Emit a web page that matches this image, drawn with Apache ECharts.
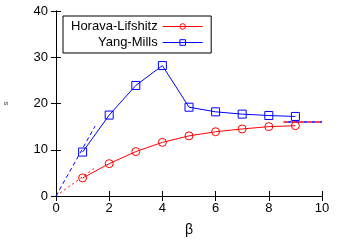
<!DOCTYPE html>
<html>
<head>
    <title></title>
    <script src="https://cdn.jsdelivr.net/npm/echarts@6/dist/echarts.min.js"></script>
    <style>body{margin:0;} #main{width:340px;height:241px;}</style>
</head>
<body>
<div id="main"></div>
<script type="text/javascript">
// values
var betas = [1, 2, 3, 4, 5, 6, 7, 8, 9];
var horava = [3.9, 7.0, 9.6, 11.6, 13.0, 13.9, 14.5, 15.0, 15.2];
var yangMills = [9.5, 17.5, 23.9, 28.2, 19.2, 18.2, 17.7, 17.4, 17.2];
// small-beta slopes and large-beta limit
var ymSlope = [[0, 0], [1.47, 15.1]];
var hlSlope = [[0, 0], [1.47, 6.1]];
var limitLine = [[8.55, 16], [10, 16]];
var xTicks = [0, 2, 4, 6, 8, 10];
var yTicks = [0, 10, 20, 30, 40];

function pairs(xs, ys) {
    var out = [];
    for (var i = 0; i < xs.length; i++) out.push([xs[i], ys[i]]);
    return out;
}

var myChart = echarts.init(document.getElementById('main'));
var font = 'Liberation Sans, Arial, sans-serif';
var axisLine = {lineStyle: {color: '#000', width: 1}};

myChart.setOption({
    animation: false,
    textStyle: {fontFamily: font},
    grid: {left: 56, right: 18, top: 11, bottom: 45, containLabel: false, outerBoundsMode: 'none'},
    legend: {
        orient: 'vertical',
        align: 'right',
        left: 63, top: 16,
        width: 155,
        padding: [4, 8, 4, 8],
        itemGap: 3,
        itemWidth: 40, itemHeight: 7,
        borderColor: '#000', borderWidth: 1, borderRadius: 0,
        lineStyle: {width: 1},
        itemStyle: {borderWidth: 1},
        textStyle: {fontSize: 13, color: '#000', fontFamily: font},
        data: ['Horava-Lifshitz', 'Yang-Mills']
    },
    xAxis: [{
        type: 'value', min: xTicks[0], max: xTicks[xTicks.length - 1], interval: 2,
        name: 'β', nameLocation: 'middle', nameGap: 27,
        nameTextStyle: {fontSize: 14, color: '#000'},
        axisLine: axisLine,
        axisTick: {inside: true, length: 5, lineStyle: {color: '#000'}},
        axisLabel: {fontSize: 13, color: '#000', margin: 6},
        splitLine: {show: false}
    }, {
        type: 'value', position: 'top', min: 0, max: 10, interval: 2,
        axisLine: axisLine,
        axisTick: {inside: true, length: 5, lineStyle: {color: '#000'}},
        axisLabel: {show: false}, splitLine: {show: false}
    }],
    yAxis: [{
        type: 'value', min: yTicks[0], max: yTicks[yTicks.length - 1], interval: 10,
        name: 's', nameLocation: 'middle', nameGap: 46, nameRotate: 90,
        nameTextStyle: {fontSize: 8, color: '#444'},
        axisLine: axisLine,
        axisTick: {inside: true, length: 5, lineStyle: {color: '#000'}},
        axisLabel: {fontSize: 13, color: '#000', margin: 8},
        splitLine: {show: false}
    }, {
        type: 'value', position: 'right', min: 0, max: 40, interval: 10,
        axisLine: axisLine,
        axisTick: {inside: true, length: 5, lineStyle: {color: '#000'}},
        axisLabel: {show: false}, splitLine: {show: false}
    }],
    series: [
        {
            name: 'Horava-Lifshitz', type: 'line', data: pairs(betas, horava),
            symbol: 'circle', symbolSize: 8,
            lineStyle: {color: '#ff0000', width: 1},
            itemStyle: {color: 'rgba(255,255,255,0)', borderColor: '#ff0000', borderWidth: 1}
        },
        {
            name: 'Yang-Mills', type: 'line', data: pairs(betas, yangMills),
            symbol: 'rect', symbolSize: 8,
            lineStyle: {color: '#0000ff', width: 1},
            itemStyle: {color: 'rgba(255,255,255,0)', borderColor: '#0000ff', borderWidth: 1}
        },
        {
            type: 'line', data: hlSlope, symbol: 'none', silent: true,
            lineStyle: {color: '#ff0000', width: 1, type: [2, 3]}
        },
        {
            type: 'line', data: ymSlope, symbol: 'none', silent: true,
            lineStyle: {color: '#0000ff', width: 1, type: [4, 3]}
        },
        {
            type: 'line', data: limitLine, symbol: 'none', silent: true,
            lineStyle: {color: '#ff0000', width: 1.5, type: [4, 4]}
        },
        {
            type: 'line', data: limitLine, symbol: 'none', silent: true,
            lineStyle: {color: '#0000ff', width: 1.5, type: [4, 4], dashOffset: 4}
        }
    ]
});
</script>
</body>
</html>
